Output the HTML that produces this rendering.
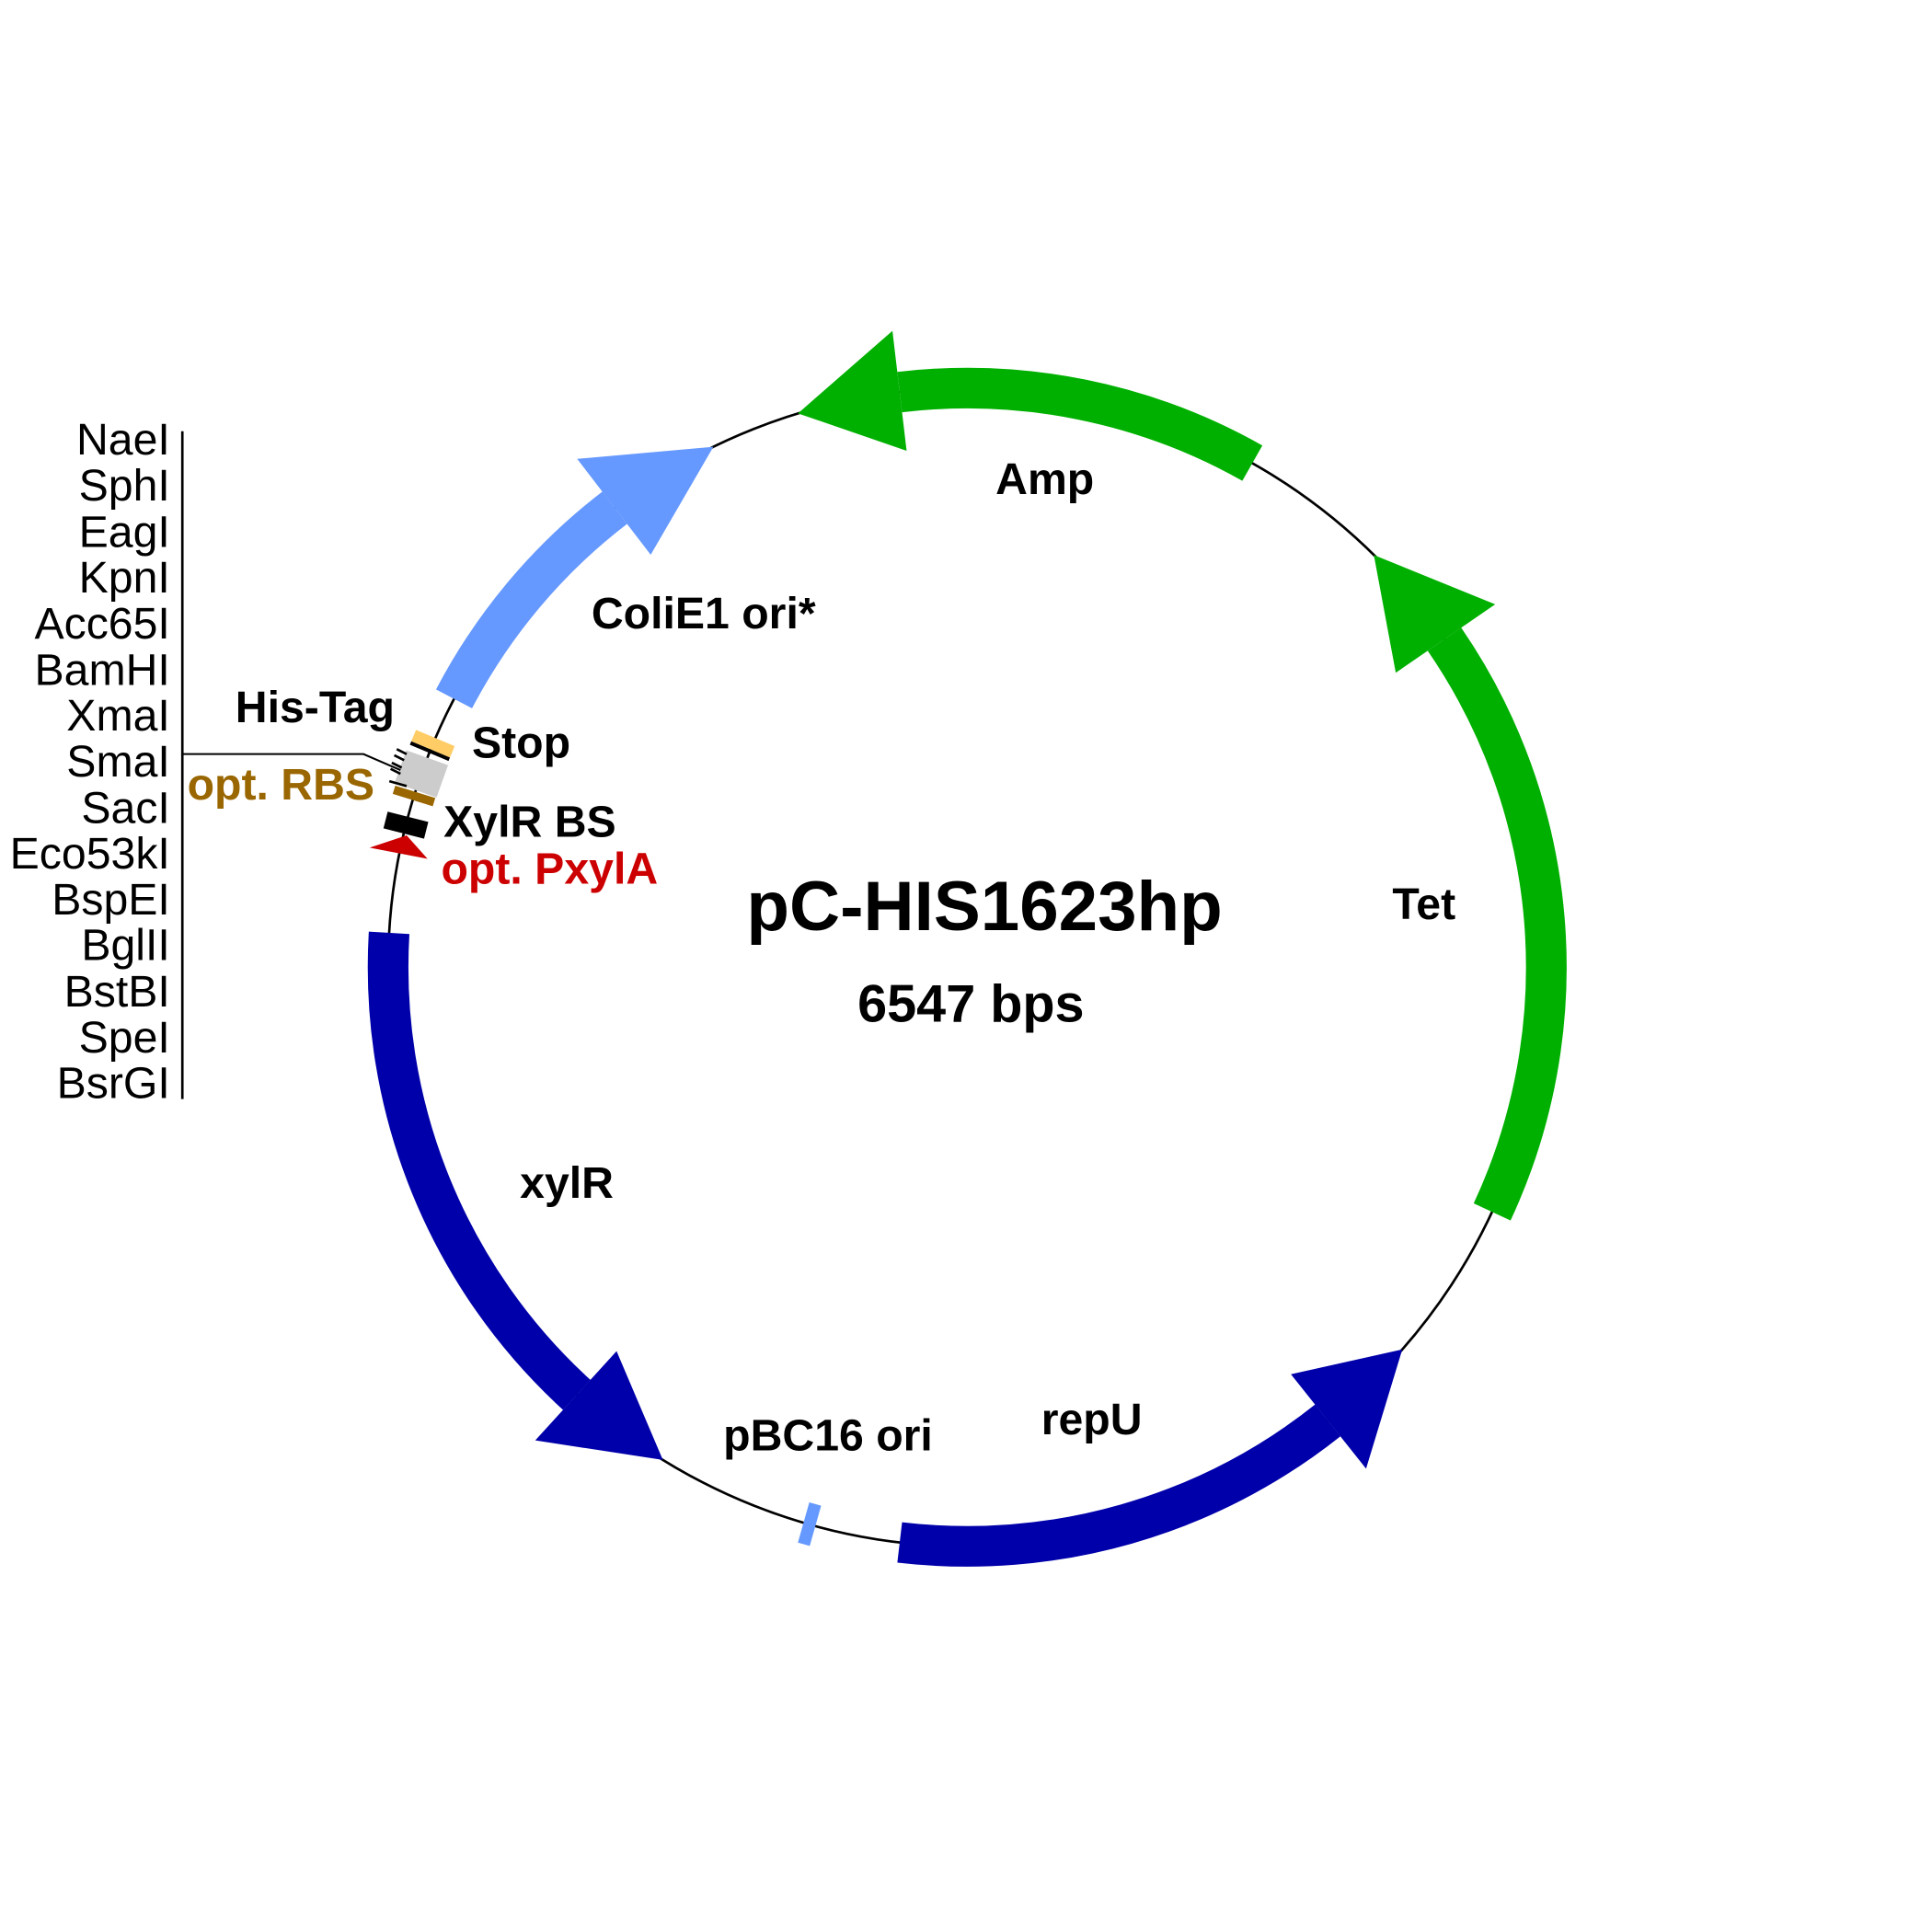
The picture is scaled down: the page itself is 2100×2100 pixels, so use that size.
<!DOCTYPE html>
<html><head><meta charset="utf-8"><style>html,body{margin:0;padding:0;background:#fff}svg{display:block}</style></head>
<body>
<svg width="2100" height="2100" viewBox="0 0 1568 1568" xmlns="http://www.w3.org/2000/svg">
<rect width="1568" height="1568" fill="#fff"/>
<circle cx="785" cy="785" r="470" fill="none" stroke="#000" stroke-width="2"/>
<!-- Amp -->
<path d="M1016.4,375.9 A470,470 0 0 0 730.2,318.2" fill="none" stroke="#00b000" stroke-width="33"/>
<polygon points="724.3,268.5 647.6,335.5 735.8,365.9" fill="#00b000"/>
<!-- Tet -->
<path d="M1211,983.6 A470,470 0 0 0 1172.3,518.8" fill="none" stroke="#00b000" stroke-width="33"/>
<polygon points="1213.5,490.5 1115,450.4 1132.8,546" fill="#00b000"/>
<!-- ColiE1 -->
<path d="M368.5,567.2 A470,470 0 0 1 498.9,412.1" fill="none" stroke="#6699ff" stroke-width="33"/>
<polygon points="468.4,372.4 579,362.6 528.1,450.2" fill="#6699ff"/>
<!-- xylR -->
<path d="M315.8,757.1 A470,470 0 0 0 468.1,1132.1" fill="none" stroke="#0000aa" stroke-width="33"/>
<polygon points="434.4,1169 538,1184.9 500.4,1096.6" fill="#0000aa"/>
<!-- repU -->
<path d="M730.2,1251.8 A470,470 0 0 0 1077.6,1152.8" fill="none" stroke="#0000aa" stroke-width="33"/>
<polygon points="1108.7,1192 1138.1,1095.2 1047.7,1115.3" fill="#0000aa"/>
<!-- pBC16 ori -->
<rect x="-5" y="-17" width="10" height="34" fill="#6699ff" transform="translate(657,1237) rotate(195.8)"/>
<!-- small features -->
<g transform="translate(351.4,603.6) rotate(-67.3)"><rect x="-5" y="-17" width="10" height="34" fill="#ffcc66"/><rect x="-8" y="-17" width="3" height="34" fill="#000"/></g>
<rect x="-14" y="-18" width="28" height="36" fill="#cccccc" transform="translate(342,628.1) rotate(-70.5)"/>
<rect x="-3.5" y="-17" width="7" height="34" fill="#996600" transform="translate(336,646) rotate(-72.8)"/>
<rect x="-7" y="-17" width="14" height="34" fill="#000" transform="translate(329.4,669.7) rotate(-75.8)"/>
<polygon points="300,688 347,697 330,678" fill="#cc0000"/>
<g stroke="#000" stroke-width="2">
<line x1="322" y1="608" x2="330" y2="612"/><line x1="320" y1="613" x2="328" y2="617"/><line x1="318" y1="619" x2="326" y2="623"/><line x1="317" y1="624" x2="325" y2="628"/><line x1="316" y1="634" x2="330" y2="638"/>
</g>
<!-- MCS list -->
<line x1="148" y1="350" x2="148" y2="892" stroke="#000" stroke-width="2"/>
<polyline points="148,612 295,612 325,625" fill="none" stroke="#000" stroke-width="1.5"/>
<g font-family="Liberation Sans, Arial, sans-serif" font-size="36" text-anchor="end" fill="#000">
<text x="138" y="369">NaeI</text><text x="138" y="406">SphI</text><text x="138" y="444">EagI</text><text x="138" y="481">KpnI</text><text x="138" y="518">Acc65I</text><text x="138" y="556">BamHI</text><text x="138" y="593">XmaI</text><text x="138" y="630">SmaI</text><text x="138" y="668">SacI</text><text x="138" y="705">Eco53kI</text><text x="138" y="742">BspEI</text><text x="138" y="779">BglII</text><text x="138" y="817">BstBI</text><text x="138" y="854">SpeI</text><text x="138" y="891">BsrGI</text>
</g>
<g font-family="Liberation Sans, Arial, sans-serif" font-weight="bold" font-size="36" fill="#000">
<text x="808" y="401">Amp</text>
<text x="480" y="510">ColiE1 ori*</text>
<text x="1130" y="746">Tet</text>
<text x="422" y="972">xylR</text>
<text x="587" y="1177">pBC16 ori</text>
<text x="845" y="1164">repU</text>
<text x="191" y="586">His-Tag</text>
<text x="383" y="615">Stop</text>
<text x="152" y="649" fill="#996600">opt. RBS</text>
<text x="360" y="679">XylR BS</text>
<text x="358" y="717" fill="#cc0000">opt. PxylA</text>
<text x="799" y="755" font-size="57" text-anchor="middle">pC-HIS1623hp</text>
<text x="788" y="829" font-size="43" text-anchor="middle">6547 bps</text>
</g>
</svg>
</body></html>
